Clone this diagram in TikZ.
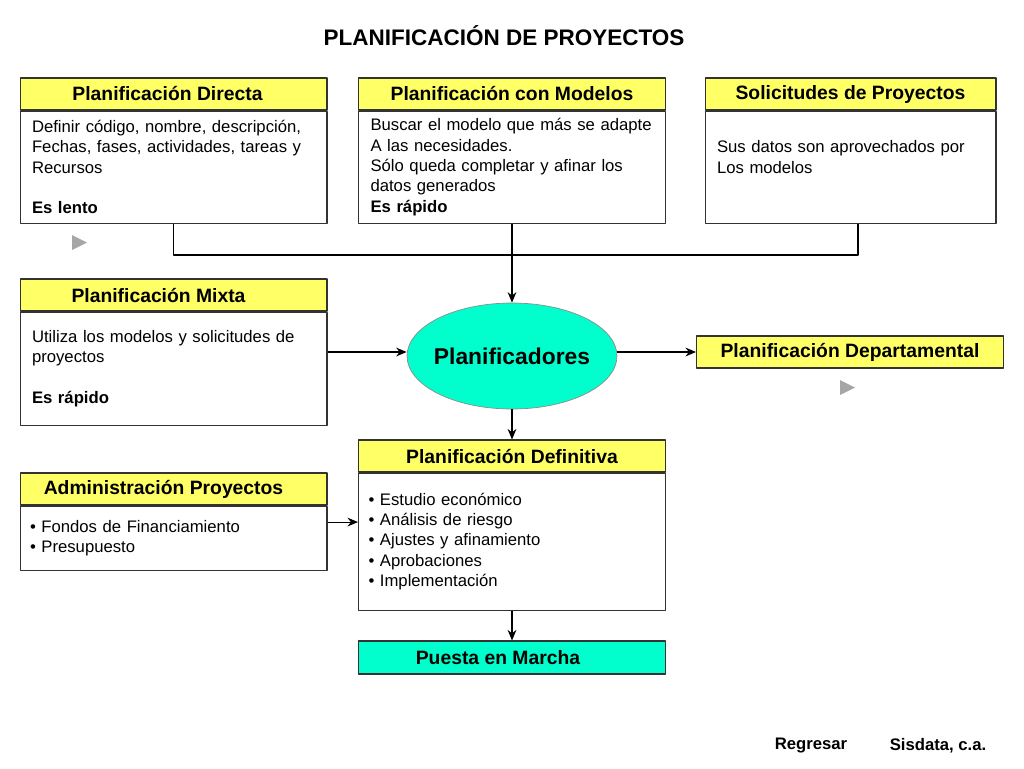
\documentclass[tikz,border=0pt]{standalone}
\usepackage{fontspec}
\setmainfont{Liberation Sans}
\usetikzlibrary{shapes.geometric, arrows.meta}
\definecolor{amarillo}{RGB}{255,255,102}
\definecolor{aguamarina}{RGB}{0,255,204}
\tikzset{
	cabecera/.style={draw=black!80, fill=amarillo, line width=0.6pt, minimum width=6.14cm, minimum height=0.64cm, inner sep=0pt, font=\fontsize{11}{13}\selectfont\bfseries},
	cuerpo/.style={draw=black!80, line width=0.6pt, anchor=north, text width=5.66cm, inner xsep=0.24cm, inner ysep=0pt, align=left, font=\fontsize{9.5}{11.6}\selectfont},
	linea/.style={line width=0.6pt, black}
}
\begin{document}
\begin{tikzpicture}[x=0.02cm, y=-0.02cm, line join=round, >={Stealth[length=6pt, width=5pt]}]
	\useasboundingbox (0,0) rectangle (1024,768);
	% Título
	\node[font=\fontsize{12.8}{15}\selectfont\bfseries] (titulo) at (504,36) {PLANIFICACIÓN DE PROYECTOS};
	% Fila superior
	\node[cabecera] (dirH) at (173.5,94) {Planificación Directa\hspace*{0.24cm}};
	\node[cuerpo, minimum height=2.24cm] (dirB) at (dirH.south) {Definir código, nombre, descripción,\\Fechas, fases, actividades, tareas y\\Recursos\\[11.6pt]\textbf{Es lento}};
	\node[cabecera] (modH) at (512,94) {Planificación con Modelos};
	\node[cuerpo, minimum height=2.24cm] (modB) at (modH.south) {Buscar el modelo que más se adapte\\A las necesidades.\\Sólo queda completar y afinar los\\datos generados\\\textbf{Es rápido}};
	\node[cabecera, minimum width=5.82cm] (solH) at (850.5,94) {Solicitudes de Proyectos};
	\node[cuerpo, text width=5.34cm, minimum height=2.24cm] (solB) at (solH.south) {Sus datos son aprovechados por\\Los modelos\\\mbox{}};
	% Unión hacia los planificadores
	\coordinate (union) at (512,255);
	\draw[linea] (dirB.south) |- (union) -| ([xshift=0.15cm]solB.south);
	\fill[black!35] (72,235) -- (72,250) -- (87,242.5) -- cycle;
	% Centro
	\node[ellipse, draw=black!45, fill=aguamarina, inner sep=0pt, minimum width=4.2cm, minimum height=2.12cm, font=\fontsize{13}{15}\selectfont\bfseries] (plan) at (512,356) {\makebox[0pt]{Planificadores}};
	\draw[linea, ->] (modB.south) -- (plan.north);
	\node[cabecera] (mixH) at (173.5,295) {Planificación Mixta\hspace*{0.6cm}};
	\node[cuerpo, minimum height=2.26cm] (mixB) at (mixH.south) {Utiliza los modelos y solicitudes de\\proyectos\\[11.6pt]\textbf{Es rápido}};
	\node[cabecera] (dep) at (850,352) {Planificación Departamental};
	\fill[black!35] (840,380) -- (840,395) -- (855,387.5) -- cycle;
	\draw[linea, ->] (mixB.east |- dep.west) -- (plan.west |- dep.west);
	\draw[linea, ->] (plan.east |- dep.west) -- (dep.west);
	% Parte inferior
	\node[cabecera] (defH) at (512,456) {Planificación Definitiva};
	\node[cuerpo, text width=5.74cm, inner xsep=0.2cm, minimum height=2.74cm] (defB) at (defH.south) {• Estudio económico\\• Análisis de riesgo\\• Ajustes y afinamiento\\• Aprobaciones\\• Implementación};
	\draw[linea, ->] (plan.south) -- (defH.north);
	\node[cabecera] (admH) at (173.5,489) {Administración Proyectos\hspace*{0.4cm}};
	\node[cuerpo, text width=5.74cm, inner xsep=0.2cm, minimum height=1.28cm] (admB) at (admH.south) {• Fondos de Financiamiento\\• Presupuesto};
	\draw[linea, ->] ([yshift=0.32cm]admB.east) -- ([yshift=0.32cm]admB.east -| defB.west);
	\node[cabecera, fill=aguamarina, minimum height=0.66cm] (pue) at (512,657.5) {Puesta en Marcha\hspace*{0.56cm}};
	\draw[linea, ->] (defB.south) -- (pue.north);
	% Pie
	\node[font=\fontsize{9.5}{11}\selectfont\bfseries] (regresar) at (811,746) {Regresar};
	\node[font=\fontsize{9.5}{11}\selectfont\bfseries] (sisdata) at (938,746) {Sisdata, c.a.};
\end{tikzpicture}
\end{document}
